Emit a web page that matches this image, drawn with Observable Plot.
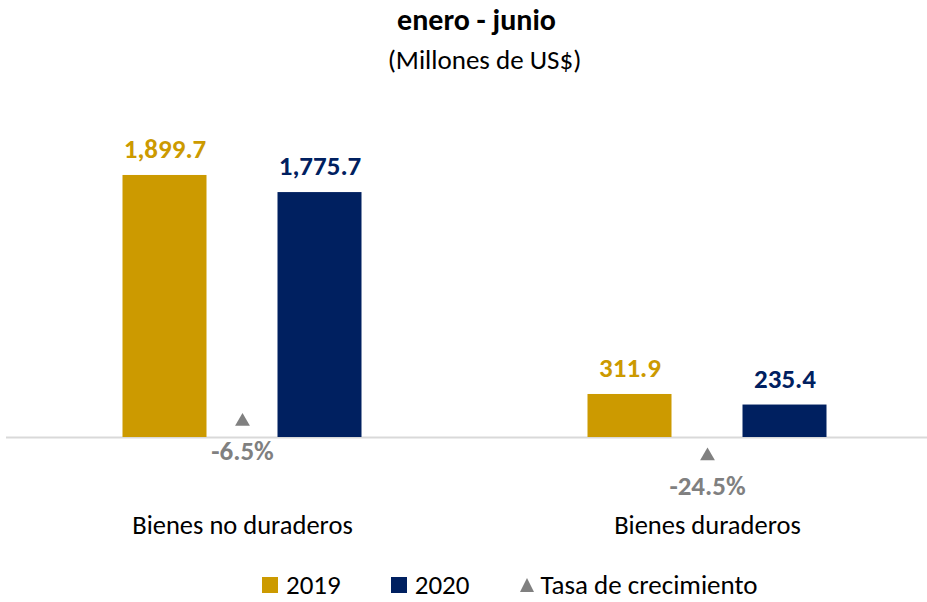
<!DOCTYPE html>
<html>
<head>
<meta charset="utf-8">
<script src="https://cdn.jsdelivr.net/npm/d3@7"></script>
<script src="https://cdn.jsdelivr.net/npm/@observablehq/plot@0.6"></script>
<style>
  body { margin: 0; background: #fff; font-family: Carlito, Lato, sans-serif; }
  #wrap { position: relative; width: 927px; height: 602px; }
  #title { position: absolute; top: 3px; left: 13px; width: 927px; text-align: center; font-weight: bold; font-size: 30px; color: #000; line-height: 34px; }
  #subtitle { position: absolute; top: 43px; left: 21px; width: 927px; text-align: center; font-size: 27px; color: #000; line-height: 34px; }
  #chart { position: absolute; top: 85px; left: 0; }
  #legend { position: absolute; top: 571px; left: 262px; display: flex; align-items: center; font-size: 27px; line-height: 28px; color: #000; white-space: nowrap; }
  .item { display: flex; align-items: center; margin-right: 50px; }
  .sw { width: 16px; height: 16px; margin-right: 8px; }
  .tri { width: 0; height: 0; border-left: 7.5px solid transparent; border-right: 7.5px solid transparent; border-bottom: 14px solid #808080; margin-right: 7px; }
</style>
</head>
<body>
<div id="wrap">
  <div id="title">enero - junio</div>
  <div id="subtitle">(Millones de US$)</div>
  <div id="chart"></div>
  <div id="legend"></div>
</div>
<script>
const categories = ["Bienes no duraderos", "Bienes duraderos"];
const years = ["2019", "2020"];
const values2019 = [1899.7, 311.9];
const values2020 = [1775.7, 235.4];
const growth = [-6.5, -24.5];
const growthLabel = "Tasa de crecimiento";
const colors = {"2019": "#CC9A00", "2020": "#002060"};
const growthColor = "#808080";

// secondary axis for growth rate, mapped onto primary value units
const growthZero = 206;
const growthPerPoint = 13.9;

const bars2019 = categories.map((c, i) => ({cat: c, v: values2019[i]}));
const bars2020 = categories.map((c, i) => ({cat: c, v: values2020[i]}));
const growthData = categories.map((c, i) => ({cat: c, g: growth[i]}));

const fmt = d3.format(",.1f");
const barOffset = 77.5;

const chart = Plot.plot({
  width: 927,
  height: 470,
  marginTop: 0,
  marginBottom: 118,
  marginLeft: 6,
  marginRight: 0,
  style: {fontFamily: "Carlito, Lato, sans-serif", background: "transparent"},
  x: {type: "band", domain: categories, range: [22, 927], paddingInner: 0.8194, paddingOuter: 0.3827, label: null},
  y: {domain: [0, 2552], axis: null},
  marks: [
    Plot.ruleY([0], {stroke: "#d9d9d9", strokeWidth: 2}),
    Plot.barY(bars2019, {x: "cat", y: "v", fill: colors["2019"], dx: -barOffset}),
    Plot.barY(bars2020, {x: "cat", y: "v", fill: colors["2020"], dx: barOffset}),
    Plot.text(bars2019, {x: "cat", y: "v", text: d => fmt(d.v), dx: -barOffset, dy: -26, fill: colors["2019"], fontWeight: "bold", fontSize: 27}),
    Plot.text(bars2020, {x: "cat", y: "v", text: d => fmt(d.v), dx: barOffset, dy: -26, fill: colors["2020"], fontWeight: "bold", fontSize: 27}),
    Plot.dot(growthData, {x: "cat", y: d => growthZero + growthPerPoint * d.g, symbol: "triangle", fill: growthColor, r: 5.5}),
    Plot.text(growthData, {x: "cat", y: d => growthZero + growthPerPoint * d.g, text: d => d.g.toFixed(1) + "%", dy: 30, fill: growthColor, fontWeight: "bold", fontSize: 27}),
    Plot.axisX({tickSize: 0, tickPadding: 78, fontSize: 26.5, fill: "#000", label: null})
  ]
});
document.getElementById("chart").appendChild(chart);

const legend = document.getElementById("legend");
years.forEach(y => {
  const it = document.createElement("div");
  it.className = "item";
  it.innerHTML = `<span class="sw" style="background:${colors[y]}"></span><span>${y}</span>`;
  legend.appendChild(it);
});
const gi = document.createElement("div");
gi.className = "item";
gi.innerHTML = `<span class="tri"></span><span>${growthLabel}</span>`;
legend.appendChild(gi);
</script>
</body>
</html>
